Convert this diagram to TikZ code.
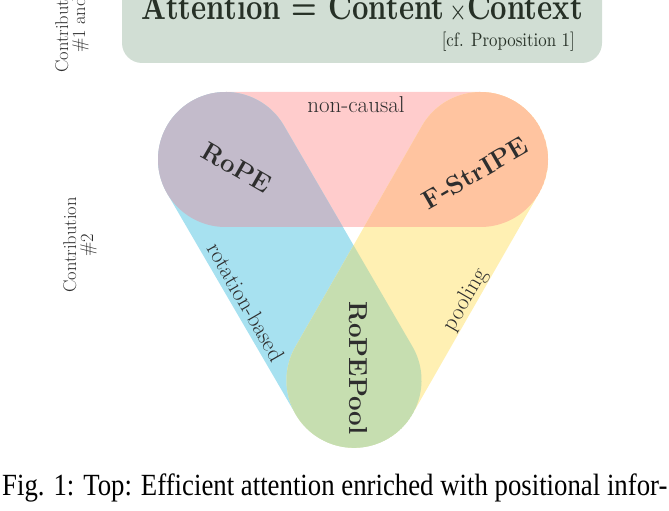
\documentclass[tikz,border=0pt]{standalone}
\usepackage{fontspec}
\newfontfamily\capfont{Liberation Serif}
\usetikzlibrary{calc}
\definecolor{pinkc}{HTML}{FFCCCC}
\definecolor{bluec}{HTML}{A7E1F0}
\definecolor{yellowc}{HTML}{FFF0B3}
\definecolor{lavc}{HTML}{C3BBCB}
\definecolor{orangec}{HTML}{FFC4A0}
\definecolor{greenc}{HTML}{C6DEB0}
\definecolor{boxc}{HTML}{D1DED4}
\definecolor{textc}{HTML}{2E2E2E}
\definecolor{titlec}{HTML}{263026}
\newcommand\Rr{67.5pt}
\newcommand\stadpath[3]{($(#1)+(#3+90:\Rr)$) -- ($(#2)+(#3+90:\Rr)$) arc[start angle=#3+90, end angle=#3-90, radius=\Rr] -- ($(#1)+(#3-90:\Rr)$) arc[start angle=#3-90, end angle=#3-270, radius=\Rr] -- cycle}
\tikzset{
  lab/.style={text=textc, inner sep=0pt, font=\fontsize{23}{26}\selectfont},
  blab/.style={text=textc, inner sep=0pt, font=\bfseries\fontsize{26}{30}\selectfont},
  side/.style={text=textc, inner sep=0pt, align=center, font=\fontsize{18.5}{17}\selectfont}
}
\begin{document}
\begin{tikzpicture}[x=1pt,y=1pt]
\useasboundingbox (0,0) rectangle (669,511);
\begin{scope}
\clip (0,0) rectangle (669,511);
% top box
\fill[boxc, rounded corners=20pt] (122,448) rectangle (602,560);
\node[anchor=base, text=titlec, inner sep=0pt] (title) at (362.5,491) {\scalebox{1}[1.3]{\resizebox{441pt}{!}{\bfseries Attention = Content{\,\scriptsize$\times$}Context}}};
\node[anchor=base east, text=titlec, inner sep=0pt] (cf) at (575,464) {\scalebox{1}[1.15]{\resizebox{133pt}{!}{[cf. Proposition 1]}}};
% side labels
\node[side, rotate=90] (c1) at (72,486) {Contribution\\\#1 and};
\node[side, rotate=90] (c2) at (80,266) {Contribution\\\#2};
% venn
\coordinate (A) at (225.5,351.5);
\coordinate (B) at (480.5,351.5);
\coordinate (C) at (354,130.7);
\fill[pinkc] \stadpath{A}{B}{0};
\fill[bluec] \stadpath{A}{C}{-60};
\fill[yellowc] \stadpath{B}{C}{-120};
\begin{scope}
\clip \stadpath{A}{B}{0};
\fill[lavc] \stadpath{A}{C}{-60};
\fill[orangec] \stadpath{B}{C}{-120};
\end{scope}
\begin{scope}
\clip \stadpath{A}{C}{-60};
\fill[greenc] \stadpath{B}{C}{-120};
\end{scope}
\node[lab] (nc) at (356,406) {non-causal};
\node[blab, rotate=-30] (rope) at (237,343) {RoPE};
\node[blab, rotate=30] (fs) at (475,338) {F-StrIPE};
\node[blab, rotate=-90] (rp) at (358,143) {RoPEPool};
\node[lab, rotate=-60] (rb) at (246,209) {rotation-based};
\node[lab, rotate=60] (pl) at (466,211) {pooling};
% caption
\node[anchor=base west, inner sep=0pt] (cap) at (2,15) {\scalebox{1}[1.15]{\resizebox{665pt}{!}{\capfont Fig. 1: Top: Efficient attention enriched with positional infor-}}};
\end{scope}
\end{tikzpicture}
\end{document}
